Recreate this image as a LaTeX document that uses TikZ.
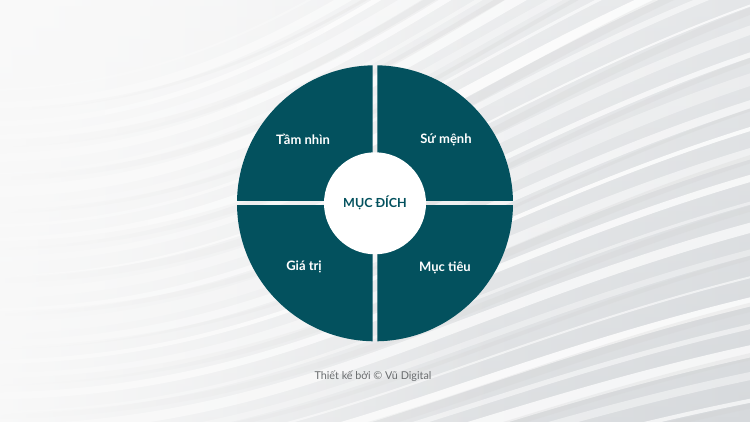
\documentclass[tikz,border=0pt]{standalone}
\usepackage{fontspec}
\setmainfont{Lato}
\usetikzlibrary{fadings}
\definecolor{teal}{RGB}{3,81,94}
\definecolor{bgL}{RGB}{249,249,249}
\definecolor{bgR}{RGB}{214,217,220}
\definecolor{foot}{RGB}{105,108,110}
\tikzfading[name=leftopaque, left color=transparent!5, right color=transparent!100]
\tikzset{
  quadlabel/.style={text=white, font=\bfseries\fontsize{13}{15}\selectfont, inner sep=0pt},
  hub/.style={circle, fill=white, minimum size=102pt, inner sep=0pt, text=teal, font=\bfseries\fontsize{12.5}{14}\selectfont},
  footnote/.style={text=foot, font=\fontsize{10.8}{12}\selectfont, inner sep=0pt},
  streak/.style={line cap=round}
}
\begin{document}
\begin{tikzpicture}[x=1pt,y=-1pt]
\useasboundingbox (0,0) rectangle (750,422);
% background
\shade[left color=bgL, right color=bgR] (0,0) rectangle (750,422);
\shade[top color=white, bottom color=bgR, opacity=0.35] (0,0) rectangle (750,422);
% streaks
\foreach \i in {0,...,27}{
  \pgfmathsetmacro{\s}{90+17*\i}
  \pgfmathsetmacro{\e}{-280+25*\i}
  \pgfmathsetmacro{\c}{\e+0.4*(\s-\e)}
  \pgfmathsetmacro{\w}{2+mod(\i*7,11)}
  \pgfmathsetmacro{\o}{0.35+0.08*mod(\i*3,7)}
  \draw[streak, white, line width=\w pt, opacity=\o] (-20,\s) .. controls (300,\s) and (450,\c) .. (780,\e);
}
\foreach \i in {0,...,13}{
  \pgfmathsetmacro{\s}{110+34*\i}
  \pgfmathsetmacro{\e}{-250+50*\i}
  \pgfmathsetmacro{\c}{\e+0.4*(\s-\e)}
  \pgfmathsetmacro{\w}{3+mod(\i*5,7)}
  \draw[streak, black!18, line width=\w pt, opacity=0.25] (-20,\s) .. controls (320,\s) and (470,\c) .. (780,\e);
}
% soften the left side
\fill[bgL, path fading=leftopaque] (0,0) rectangle (500,422);
% quadrants
\coordinate (O) at (375,203.3);
\foreach \xa/\ya/\xb/\yb in {230/60/372.7/201, 377.3/60/520/201, 230/205.6/372.7/350, 377.3/205.6/520/350}{
  \begin{scope}
    \clip (\xa,\ya) rectangle (\xb,\yb);
    \fill[teal] (O) circle[radius=138];
  \end{scope}
}
\node[hub] (hub) at (O) {MỤC ĐÍCH};
\node[quadlabel] (vision) at (303,139.5) {Tầm nhìn};
\node[quadlabel] (mission) at (446,139.5) {Sứ mệnh};
\node[quadlabel] (values) at (304,266.5) {Giá trị};
\node[quadlabel] (goals) at (445,267.5) {Mục tiêu};
\node[footnote] (credit) at (373,376) {Thiết kế bởi © Vũ Digital};
\end{tikzpicture}
\end{document}
